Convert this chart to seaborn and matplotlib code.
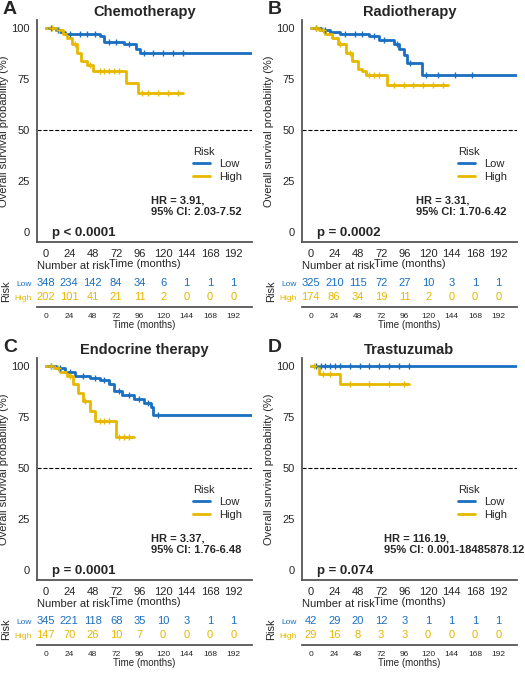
import numpy as np
import pandas as pd
import seaborn as sns
import matplotlib
matplotlib.use('Agg')
import matplotlib.pyplot as plt

sns.set_style('white')
plt.rcParams['font.family'] = ['Liberation Sans', 'DejaVu Sans']

BLUE = '#1A6FC0'
YELLOW = '#E7B800'

times = [0, 24, 48, 72, 96, 120, 144, 168, 192]

# survival step curves: (time, survival %)
chemo_low_t = [0, 10, 15, 20, 55, 60, 80, 92, 96, 211]
chemo_low_s = [100, 99, 98, 97, 96, 93, 92, 90, 88, 88]
chemo_high_t = [0, 10, 18, 22, 27, 32, 36, 42, 48, 82, 94, 140]
chemo_high_s = [100, 99, 97, 95, 92, 88, 84, 82, 79, 73, 68, 68]
radio_low_t = [0, 10, 20, 30, 60, 70, 85, 90, 95, 98, 114, 211]
radio_low_s = [100, 99, 98, 97, 96, 94, 92, 90, 87, 83, 77, 77]
radio_high_t = [0, 8, 15, 22, 28, 36, 42, 48, 52, 56, 78, 140]
radio_high_s = [100, 99, 97, 95, 92, 88, 84, 80, 79, 77, 72, 72]
endo_low_t = [0, 10, 20, 30, 45, 55, 65, 70, 78, 90, 100, 108, 110, 211]
endo_low_s = [100, 99, 97, 95, 94, 93, 91, 88, 86, 84, 82, 80, 76, 76]
endo_high_t = [0, 8, 15, 22, 28, 33, 38, 45, 50, 72, 90]
endo_high_s = [100, 99, 97, 95, 91, 87, 83, 78, 73, 65, 65]
tras_low_t = [0, 211]
tras_low_s = [100, 100]
tras_high_t = [0, 8, 30, 100]
tras_high_s = [100, 96, 91, 91]

# censor marks (months)
chemo_low_c = [5, 12, 25, 35, 42, 50, 65, 72, 85, 100, 110, 120, 130, 140]
chemo_high_c = [6, 14, 30, 45, 55, 60, 65, 70, 75, 98, 105, 115, 125, 135]
radio_low_c = [5, 15, 35, 45, 52, 65, 75, 88, 102, 118, 130, 148, 165]
radio_high_c = [5, 12, 30, 40, 60, 65, 70, 85, 95, 105, 115, 125, 135]
endo_low_c = [5, 15, 25, 38, 50, 60, 75, 85, 95, 105, 115]
endo_high_c = [5, 12, 25, 40, 55, 60, 65, 75, 80, 85]
tras_low_c = [5, 10, 15, 20, 25, 30, 40, 50, 60, 70, 80, 90, 100]
tras_high_c = [3, 12, 20, 40, 60, 80, 95]

chemo_risk_low = [348, 234, 142, 84, 34, 6, 1, 1, 1]
chemo_risk_high = [202, 101, 41, 21, 11, 2, 0, 0, 0]
radio_risk_low = [325, 210, 115, 72, 27, 10, 3, 1, 1]
radio_risk_high = [174, 86, 34, 19, 11, 2, 0, 0, 0]
endo_risk_low = [345, 221, 118, 68, 35, 10, 3, 1, 1]
endo_risk_high = [147, 70, 26, 10, 7, 0, 0, 0, 0]
tras_risk_low = [42, 29, 20, 12, 3, 1, 1, 1, 1]
tras_risk_high = [29, 16, 8, 3, 3, 0, 0, 0, 0]

panels = [
    ('A', 'Chemotherapy', chemo_low_t, chemo_low_s, chemo_high_t, chemo_high_s,
     chemo_low_c, chemo_high_c, chemo_risk_low, chemo_risk_high,
     'HR = 3.91,\n95% CI: 2.03-7.52', 'p < 0.0001', 0.53),
    ('B', 'Radiotherapy', radio_low_t, radio_low_s, radio_high_t, radio_high_s,
     radio_low_c, radio_high_c, radio_risk_low, radio_risk_high,
     'HR = 3.31,\n95% CI: 1.70-6.42', 'p = 0.0002', 0.53),
    ('C', 'Endocrine therapy', endo_low_t, endo_low_s, endo_high_t, endo_high_s,
     endo_low_c, endo_high_c, endo_risk_low, endo_risk_high,
     'HR = 3.37,\n95% CI: 1.76-6.48', 'p = 0.0001', 0.53),
    ('D', 'Trastuzumab', tras_low_t, tras_low_s, tras_high_t, tras_high_s,
     tras_low_c, tras_high_c, tras_risk_low, tras_risk_high,
     'HR = 116.19,\n95% CI: 0.001-18485878.12', 'p = 0.074', 0.38),
]

W, H = 525, 680
fig = plt.figure(figsize=(W / 100, H / 100), dpi=100)


def px_axes(x0, y0, x1, y1):
    return fig.add_axes([x0 / W, 1 - y1 / H, (x1 - x0) / W, (y1 - y0) / H])


def style_spines(ax):
    for s in ['top', 'right']:
        ax.spines[s].set_visible(False)
    for s in ['left', 'bottom']:
        ax.spines[s].set_color('#555555')
        ax.spines[s].set_linewidth(1.3)


XLIM = (-9, 211)
for i, (letter, title, lt, ls, ht, hs, lc, hc, rl, rh, hr, p, hrx) in enumerate(panels):
    col, row = i % 2, i // 2
    ox = col * 265
    oy = row * 338
    ax = px_axes(ox + 37, oy + 20, ox + 252, oy + 242)
    df = pd.concat([
        pd.DataFrame({'t': lt, 's': ls, 'Risk': 'Low'}),
        pd.DataFrame({'t': ht, 's': hs, 'Risk': 'High'}),
    ])
    sns.lineplot(data=df, x='t', y='s', hue='Risk', palette={'Low': BLUE, 'High': YELLOW},
                 drawstyle='steps-post', linewidth=2, ax=ax, estimator=None, sort=False)
    for tt, ss, cc, colr in [(lt, ls, lc, BLUE), (ht, hs, hc, YELLOW)]:
        idx = np.searchsorted(tt, cc, side='right') - 1
        ax.scatter(cc, np.array(ss)[idx], marker='+', s=25, color=colr, linewidths=1, zorder=3)
    ax.axhline(50, color='black', ls='--', lw=0.8)
    ax.set_xlim(*XLIM)
    ax.set_ylim(-5, 104)
    ax.set_xticks(times)
    ax.set_yticks([0, 25, 50, 75, 100])
    ax.tick_params(labelsize=8, length=3, color='#555555', pad=2)
    ax.set_xlabel('Time (months)', fontsize=8, labelpad=0)
    ax.set_ylabel('Overall survival probability (%)', fontsize=8, labelpad=2)
    ax.set_title(title, fontsize=10.5, fontweight='bold', pad=3)
    style_spines(ax)
    ax.legend(title='Risk', loc='center left', bbox_to_anchor=(0.68, 0.35),
              frameon=False, fontsize=8, title_fontsize=8, handlelength=1.5,
              alignment='left', labelspacing=0.2)
    ax.text(hrx, 0.16, hr, transform=ax.transAxes, fontsize=8, fontweight='bold', va='center')
    ax.text(0.07, 0.04, p, transform=ax.transAxes, fontsize=9.5, fontweight='bold', va='center')
    fig.text((ox + 3) / W, 1 - (oy + 10) / H, letter, fontsize=14, fontweight='bold', va='center')

    # risk table
    rax = px_axes(ox + 37, oy + 276, ox + 252, oy + 307)
    rax.set_xlim(*XLIM)
    rax.set_ylim(-0.714, 1.5)
    for t, a, b in zip(times, rl, rh):
        rax.text(t, 1, str(a), color=BLUE, fontsize=8, ha='center', va='center')
        rax.text(t, 0, str(b), color=YELLOW, fontsize=8, ha='center', va='center')
    rax.set_yticks([0, 1])
    rax.set_yticklabels(['High', 'Low'], fontsize=6)
    for lab, c in zip(rax.get_yticklabels(), [YELLOW, BLUE]):
        lab.set_color(c)
    rax.set_xticks(times)
    rax.tick_params(axis='x', labelsize=6, length=3, color='#555555', pad=1)
    rax.tick_params(axis='y', length=3, color='#555555', pad=1)
    rax.set_xlabel('Time (months)', fontsize=7, labelpad=0)
    rax.set_ylabel('Risk', fontsize=8, labelpad=2)
    style_spines(rax)
    rax.spines['left'].set_visible(False)
    rax.set_title('Number at risk', fontsize=8, loc='left', pad=5)

fig.savefig('out.png', dpi=100)
